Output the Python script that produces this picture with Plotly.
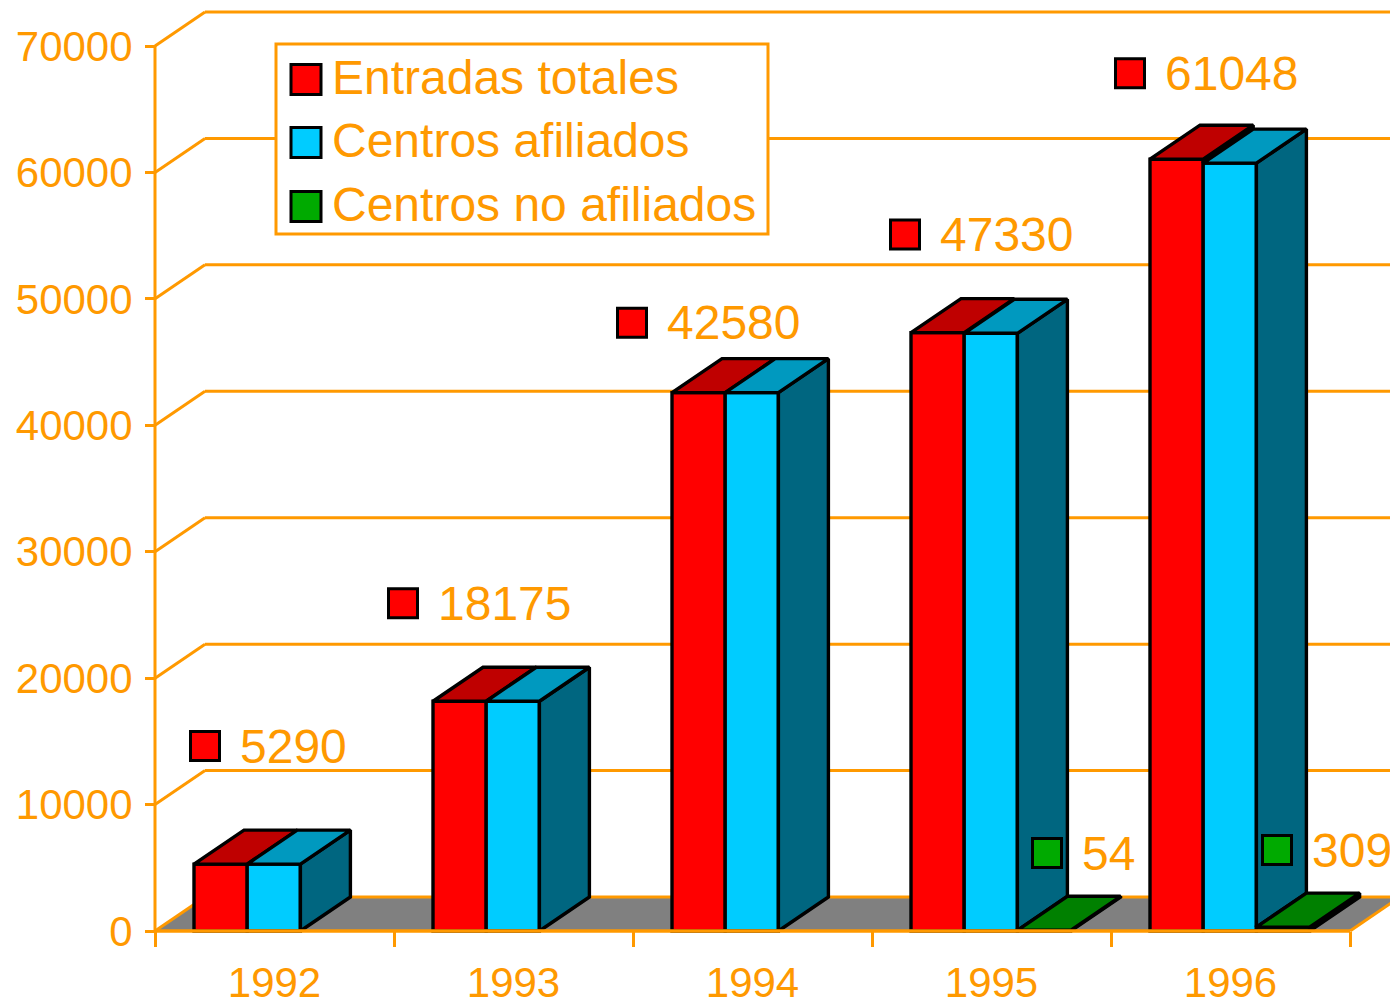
import plotly.graph_objects as go

# ---- data ----
years = ["1992", "1993", "1994", "1995", "1996"]
entradas_totales = [5290, 18175, 42580, 47330, 61048]
centros_afiliados = [5290, 18175, 42580, 47276, 60739]
centros_no_afiliados = [0, 0, 0, 54, 309]
y_ticks = [0, 10000, 20000, 30000, 40000, 50000, 60000, 70000]
series_names = ["Entradas totales", "Centros afiliados", "Centros no afiliados"]

# ---- styles / layout (pixels of the 1390x1000 page) ----
W, H = 1390, 1000
X0, CAT_W = 155, 239
Y0, PX_PER_UNIT = 931, 885 / 70000
DEPTH_PX_X, DEPTH_PX_Y = 50, 34
BAR_PX = 53.2
GAP_PX = 39
ORANGE = "#FF9900"
FONT = "Liberation Sans"
FRONT = ["#FF0000", "#00CCFF", "#00AA00"]
TOP = ["#BF0000", "#0099BF", "#008000"]
SIDE = ["#BF0000", "#006680", "#006000"]
KEY_COLORS = FRONT
EDGE = 3.4

# label placement relative to the category's left edge (x) and bar top (y), px
red_label_dx = [50, 9, -1, 33, 19]
red_label_dy = [-118, -98, -70, -98, -86]
green_label = {3: (175, 853), 4: (166, 850)}

def X(px):
    return (px - X0) / CAT_W

def Y(px):
    return (Y0 - px) / PX_PER_UNIT

dx = DEPTH_PX_X / CAT_W
dy = DEPTH_PX_Y / PX_PER_UNIT
bar_w = BAR_PX / CAT_W
gap = GAP_PX / CAT_W
x_max = X(W)

series = [entradas_totales, centros_afiliados, centros_no_afiliados]
fig = go.Figure()

# front faces
for s, values in enumerate(series):
    idx = [i for i, v in enumerate(values) if v > 0]
    fig.add_trace(go.Bar(
        x=[i + gap + s * bar_w + bar_w / 2 for i in idx],
        y=[values[i] for i in idx],
        width=bar_w,
        marker=dict(color=FRONT[s], line=dict(color="black", width=EDGE)),
        name=series_names[s], showlegend=False, hoverinfo="skip", cliponaxis=False,
    ))

# side and top faces
def polygons(faces):
    xs, ys = [], []
    for f in faces:
        xs += [p[0] for p in f] + [f[0][0], None]
        ys += [p[1] for p in f] + [f[0][1], None]
    return xs, ys

for s, values in enumerate(series):
    nxt = series[s + 1] if s < 2 else [0] * len(values)
    sides, tops = [], []
    for i, v in enumerate(values):
        if v <= 0:
            continue
        x1 = i + gap + s * bar_w
        x2 = x1 + bar_w
        sides.append([(x2, nxt[i]), (x2, v), (x2 + dx, v + dy), (x2 + dx, nxt[i] + dy)])
        tops.append([(x1, v), (x2, v), (x2 + dx, v + dy), (x1 + dx, v + dy)])
    for faces, colors in ((sides, SIDE), (tops, TOP)):
        xs, ys = polygons(faces)
        fig.add_trace(go.Scatter(
            x=xs, y=ys, mode="lines", fill="toself", fillcolor=colors[s],
            line=dict(color="black", width=EDGE), showlegend=False, hoverinfo="skip",
        ))

# value labels with their key squares
lab_x, lab_y, lab_c = [], [], []
annotations = []
def value_label(x, y, text, color):
    lab_x.append(x)
    lab_y.append(y)
    lab_c.append(color)
    annotations.append(dict(
        x=x, y=y, text=text, showarrow=False, xanchor="left", yanchor="middle",
        xshift=33, align="left", font=dict(family=FONT, size=48, color=ORANGE),
    ))

for i, v in enumerate(entradas_totales):
    value_label(i + red_label_dx[i] / CAT_W,
                v - red_label_dy[i] / PX_PER_UNIT, str(v), FRONT[0])
for i, v in enumerate(centros_no_afiliados):
    if i in green_label:
        value_label(i + green_label[i][0] / CAT_W, Y(green_label[i][1]), str(v), FRONT[2])

fig.add_trace(go.Scatter(
    x=lab_x, y=lab_y, mode="markers",
    marker=dict(symbol="square", size=29, color=lab_c, line=dict(color="black", width=3)),
    showlegend=False, hoverinfo="skip", cliponaxis=False,
))

# walls, floor, axes as shapes
shapes = []
LINE = dict(color=ORANGE, width=3)
# floor
shapes.append(dict(
    type="path", layer="below", line=dict(width=0), fillcolor="#808080",
    path=f"M 0 0 L {dx} {dy} L {x_max} {dy} L {5 + dx} {dy} L 5 0 Z",
))
for t in y_ticks:
    shapes.append(dict(type="line", layer="below", x0=0, y0=t, x1=dx, y1=t + dy, line=LINE))
    shapes.append(dict(type="line", layer="below", x0=dx, y0=t + dy, x1=x_max, y1=t + dy, line=LINE))
shapes.append(dict(type="line", layer="below", x0=0, y0=0, x1=0, y1=max(y_ticks), line=LINE))
shapes.append(dict(type="line", layer="above", x0=0, y0=0, x1=5, y1=0, line=dict(color=ORANGE, width=3.4)))
shapes.append(dict(type="line", layer="below", x0=5, y0=0, x1=5 + dx, y1=dy, line=LINE))

# legend
shapes.append(dict(type="rect", layer="below", x0=X(276), x1=X(768), y0=Y(44), y1=Y(234),
                   fillcolor="white", line=dict(color=ORANGE, width=3)))
key_y = [79.5, 142.5, 206.5]
for name, color, ky in zip(series_names, KEY_COLORS, key_y):
    shapes.append(dict(type="rect", layer="above", x0=X(291), x1=X(321), y0=Y(ky - 15), y1=Y(ky + 15),
                       fillcolor=color, line=dict(color="black", width=3)))
    annotations.append(dict(
        x=X(332), y=Y(ky - 2), text=name, showarrow=False, xanchor="left", yanchor="middle",
        xshift=-2, font=dict(family=FONT, size=48, color=ORANGE),
    ))

centers = [i + 0.5 for i in range(len(years))]
fig.update_layout(
    width=W, height=H, margin=dict(l=0, r=0, t=0, b=0),
    paper_bgcolor="white", plot_bgcolor="white", showlegend=False, barmode="overlay",
    font=dict(family=FONT, color=ORANGE),
    shapes=shapes, annotations=annotations,
    xaxis=dict(
        range=[X(0), X(W)], anchor="free", position=(H - Y0) / H,
        tickmode="array", tickvals=centers, ticktext=years,
        ticks="", showgrid=False, zeroline=False, showline=False,
        tickfont=dict(family=FONT, size=42, color=ORANGE), automargin=False,
        ticklabelstandoff=23,
        minor=dict(tickmode="array", tickvals=list(range(len(years) + 1)),
                   ticks="outside", ticklen=15, tickwidth=3, tickcolor=ORANGE, showgrid=False),
    ),
    yaxis=dict(
        range=[Y(H), Y(0)], anchor="free", position=X0 / W,
        tickmode="array", tickvals=y_ticks, ticktext=[str(t) for t in y_ticks],
        ticks="outside", ticklen=10, tickwidth=3, tickcolor=ORANGE,
        showgrid=False, zeroline=False, showline=False,
        tickfont=dict(family=FONT, size=42, color=ORANGE), automargin=False,
        ticklabelstandoff=4,
    ),
)

fig.write_html("out.html", post_script="document.body.style.margin='0';",
               config=dict(displayModeBar=False))
